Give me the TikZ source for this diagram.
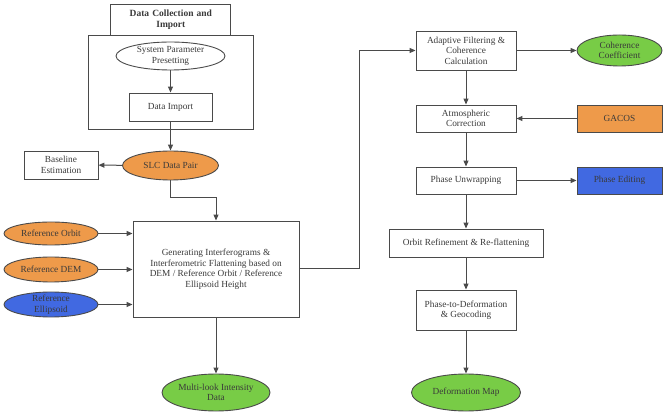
\documentclass[tikz,border=0pt]{standalone}
\usepackage{fontspec}
\setmainfont{Liberation Serif}
\usetikzlibrary{shapes.geometric,arrows.meta}
\definecolor{lineg}{HTML}{4A4A4A}
\definecolor{txtg}{HTML}{3A3A3A}
\definecolor{orng}{HTML}{EE9A4A}
\definecolor{grn}{HTML}{78CC46}
\definecolor{blu}{HTML}{4169E1}
\begin{document}
\begin{tikzpicture}[
    x=1pt, y=-1pt,
    font=\fontsize{9.3}{10.5}\selectfont, text=txtg,
    box/.style={draw=lineg, line width=0.9pt, fill=white, align=center, inner sep=1pt},
    oval/.style={ellipse, draw=lineg, line width=0.9pt, align=center, inner sep=0pt},
    arr/.style={draw=lineg, line width=1pt, -{Triangle[length=6pt,width=5pt]}}
  ]
  \useasboundingbox (0,0) rectangle (669,419);
  % left column
  \node[box, minimum width=165, minimum height=94] (imbox) at (170.5,82) {};
  \node[box, minimum width=120, minimum height=31, text width=110, font=\fontsize{9.5}{11}\selectfont\bfseries, align=center] (title) at (170.85,19.5) {Data Collection and\\Import};
  \node[oval, fill=white, minimum width=109, minimum height=28] (preset) at (170.5,56) {System Parameter\\Presetting};
  \node[box, minimum width=83, minimum height=28] (imp) at (170.5,107) {Data Import};
  \node[oval, fill=orng, minimum width=96, minimum height=29] (slc) at (170.5,165.5) {SLC Data Pair};
  \node[box, minimum width=74, minimum height=28] (base) at (61,165) {Baseline\\Estimation};
  \node[box, minimum width=166, minimum height=96] (gen) at (216,269) {Generating Interferograms \&\\Interferometric Flattening based on\\DEM / Reference Orbit / Reference\\Ellipsoid Height};
  \node[oval, fill=orng, minimum width=94, minimum height=23] (orbit) at (51,233.5) {Reference Orbit};
  \node[oval, fill=orng, minimum width=94, minimum height=25] (dem) at (51,269.5) {Reference DEM};
  \node[oval, fill=blu, minimum width=94, minimum height=25, inner ysep=-4pt] (ellip) at (51,304.5) {Reference\\Ellipsoid};
  \node[oval, fill=grn, minimum width=108, minimum height=37] (mli) at (216,392.5) {Multi-look Intensity\\Data};
  % right column
  \node[box, minimum width=100, minimum height=39] (filt) at (466,50.5) {Adaptive Filtering \&\\Coherence\\Calculation};
  \node[oval, fill=grn, minimum width=85, minimum height=31] (coh) at (619.5,50.5) {Coherence\\Coefficient};
  \node[box, minimum width=100, minimum height=27] (atm) at (466,118.5) {Atmospheric\\Correction};
  \node[box, fill=orng, minimum width=85, minimum height=27] (gacos) at (619.5,118.5) {GACOS};
  \node[box, minimum width=100, minimum height=27] (unw) at (466,180.5) {Phase Unwrapping};
  \node[box, fill=blu, minimum width=85, minimum height=27] (edit) at (619.5,180.5) {Phase Editing};
  \node[box, minimum width=154, minimum height=28] (orb) at (466,243) {Orbit Refinement \& Re-flattening};
  \node[box, minimum width=100, minimum height=40] (geo) at (466,310) {Phase-to-Deformation\\\& Geocoding};
  \node[oval, fill=grn, minimum width=109, minimum height=37] (dmap) at (466,392.5) {Deformation Map};
  % connectors
  \draw[arr] (preset) -- (imp);
  \draw[arr] (imp) -- (slc);
  \draw[arr] (slc) -- (base);
  \draw[arr] (slc.south) -- ++(0,17) -| (gen.north);
  \foreach \s in {orbit,dem,ellip}
    \draw[arr] (\s) -- (\s -| gen.west);
  \draw[arr] (gen) -- (mli);
  \draw[arr] (gen.east) -- ++(60,0) |- (filt.west);
  \draw[arr] (filt) -- (coh);
  \draw[arr] (filt) -- (atm);
  \draw[arr] (gacos) -- (atm);
  \draw[arr] (atm) -- (unw);
  \draw[arr] (unw) -- (edit);
  \draw[arr] (unw) -- (orb);
  \draw[arr] (orb) -- (geo);
  \draw[arr] (geo) -- (dmap);
\end{tikzpicture}
\end{document}
